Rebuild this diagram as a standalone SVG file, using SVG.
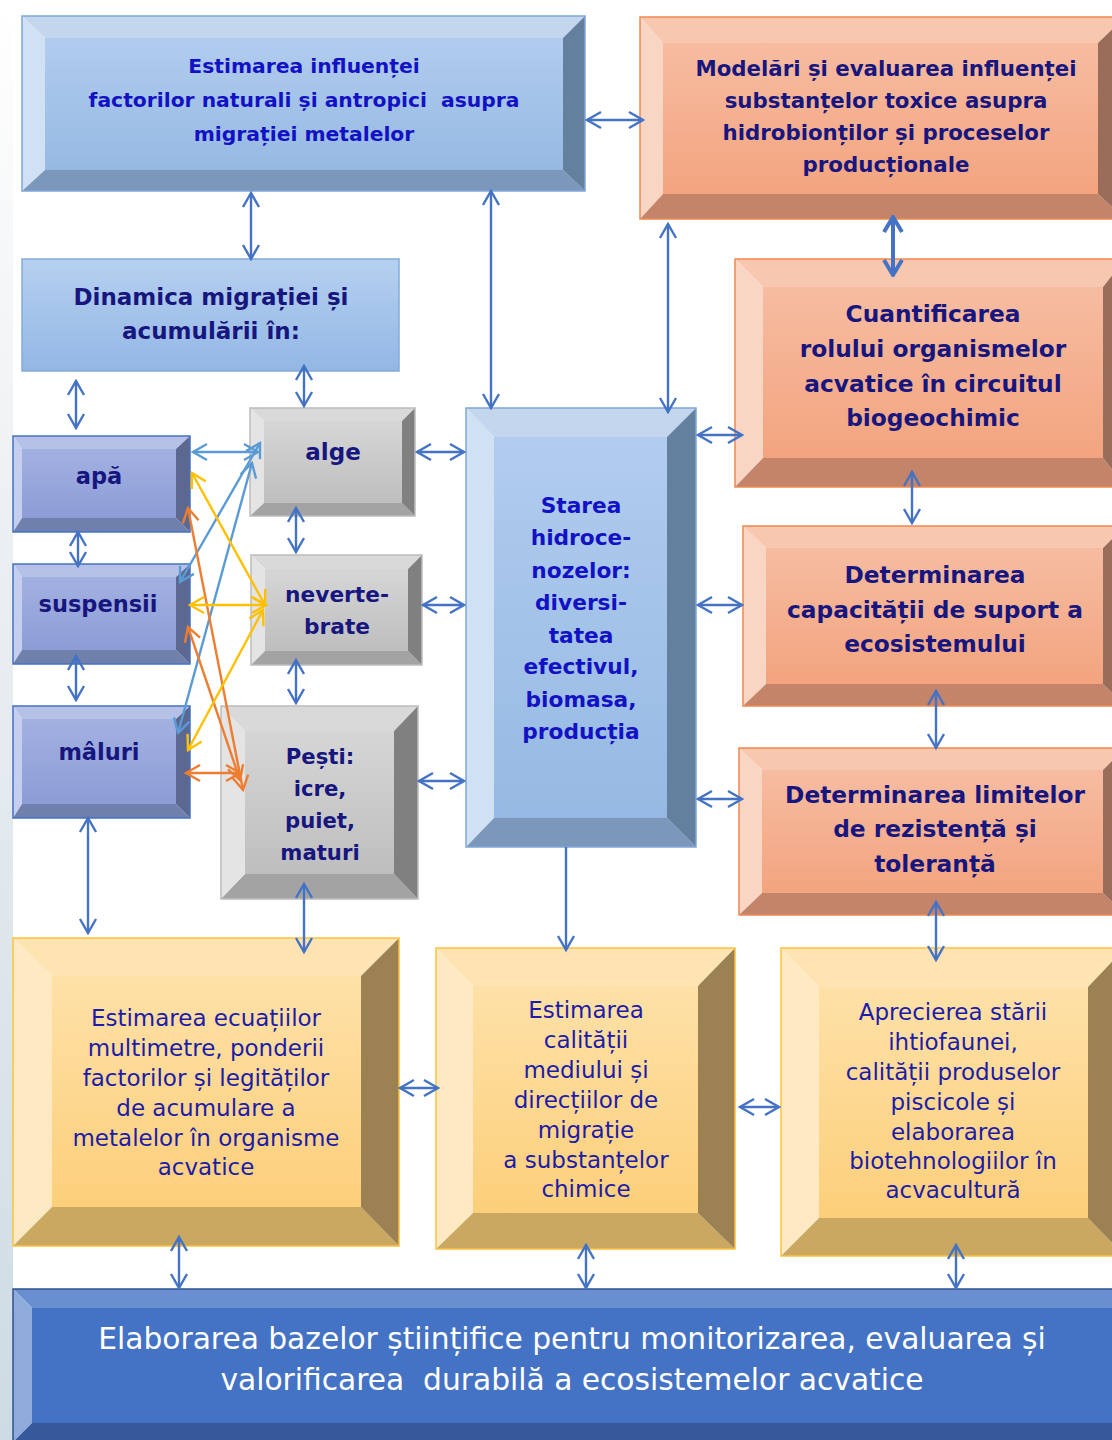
<svg xmlns="http://www.w3.org/2000/svg" width="1112" height="1440" viewBox="0 0 1112 1440">
<defs>
<linearGradient id="gBg" x1="0" y1="0" x2="0" y2="1"><stop offset="0" stop-color="#ffffff"/><stop offset="0.3" stop-color="#f0f2f4"/><stop offset="1" stop-color="#cddbe4"/></linearGradient>
<linearGradient id="gBlue" x1="0" y1="0" x2="0" y2="1"><stop offset="0" stop-color="#b1ccee"/><stop offset="1" stop-color="#96b9e3"/></linearGradient>
<linearGradient id="gDin" x1="0" y1="0" x2="0" y2="1"><stop offset="0" stop-color="#b6d0f0"/><stop offset="1" stop-color="#93b7e4"/></linearGradient>
<linearGradient id="gOr" x1="0" y1="0" x2="0" y2="1"><stop offset="0" stop-color="#f6bca1"/><stop offset="1" stop-color="#f3a47f"/></linearGradient>
<linearGradient id="gPur" x1="0" y1="0" x2="0" y2="1"><stop offset="0" stop-color="#a3b1e1"/><stop offset="1" stop-color="#8c9cd6"/></linearGradient>
<linearGradient id="gGray" x1="0" y1="0" x2="0" y2="1"><stop offset="0" stop-color="#d6d6d6"/><stop offset="1" stop-color="#bebebe"/></linearGradient>
<linearGradient id="gGold" x1="0" y1="0" x2="0" y2="1"><stop offset="0" stop-color="#fee1a8"/><stop offset="1" stop-color="#fccf7a"/></linearGradient>
<marker id="mB" viewBox="-16 -10 18 20" refX="0" refY="0" markerWidth="18" markerHeight="20" markerUnits="userSpaceOnUse" orient="auto-start-reverse"><path d="M-14,-8 L0,0 L-14,8" fill="none" stroke="#4472c4" stroke-width="2.4"/></marker>
<marker id="mBT" viewBox="-18 -12 20 24" refX="0" refY="0" markerWidth="20" markerHeight="24" markerUnits="userSpaceOnUse" orient="auto-start-reverse"><path d="M-15,-9 L0,0 L-15,9" fill="none" stroke="#4472c4" stroke-width="4"/></marker>
<marker id="mL" viewBox="-16 -10 18 20" refX="0" refY="0" markerWidth="18" markerHeight="20" markerUnits="userSpaceOnUse" orient="auto-start-reverse"><path d="M-14,-8 L0,0 L-14,8" fill="none" stroke="#5b9bd5" stroke-width="2.4"/></marker>
<marker id="mO" viewBox="-16 -10 18 20" refX="0" refY="0" markerWidth="18" markerHeight="20" markerUnits="userSpaceOnUse" orient="auto-start-reverse"><path d="M-14,-8 L0,0 L-14,8" fill="none" stroke="#ed7d31" stroke-width="2.4"/></marker>
<marker id="mY" viewBox="-16 -10 18 20" refX="0" refY="0" markerWidth="18" markerHeight="20" markerUnits="userSpaceOnUse" orient="auto-start-reverse"><path d="M-14,-8 L0,0 L-14,8" fill="none" stroke="#ffc000" stroke-width="2.4"/></marker>
</defs>
<style>
text{font-family:"DejaVu Sans","Open Sans",sans-serif;text-anchor:middle;white-space:pre}
.b{font-weight:bold}
.tb{fill:#1212c4}
.tn{fill:#16167e}
.tg{fill:#1c1ca8}
.tw{fill:#ffffff}
.bl .t{fill:#c3d6ee}.bl .l{fill:#d0e1f4}.bl .bo{fill:#7b98ba}.bl .r{fill:#63809f}.bl .c{fill:url(#gBlue)}.bl .o{fill:none;stroke:#7fa6d9;stroke-width:1.5}
.or .t{fill:#f8c7b0}.or .l{fill:#f9d5c4}.or .bo{fill:#c4846a}.or .r{fill:#9a6d5a}.or .c{fill:url(#gOr)}.or .o{fill:none;stroke:#f0894f;stroke-width:1.5}
.pu .t{fill:#b5c1e7}.pu .l{fill:#c5ceee}.pu .bo{fill:#7080ad}.pu .r{fill:#5c6890}.pu .c{fill:url(#gPur)}.pu .o{fill:none;stroke:#4472c4;stroke-width:1.5}
.gr .t{fill:#d9d9d9}.gr .l{fill:#e4e4e4}.gr .bo{fill:#a3a3a3}.gr .r{fill:#808080}.gr .c{fill:url(#gGray)}.gr .o{fill:none;stroke:#bcbcbc;stroke-width:1.5}
.go .t{fill:#fee4b2}.go .l{fill:#fee9c2}.go .bo{fill:#caa862}.go .r{fill:#9c8152}.go .c{fill:url(#gGold)}.go .o{fill:none;stroke:#fbc23c;stroke-width:1.5}
.db .t{fill:#6a8fd0}.db .l{fill:#8eabdc}.db .bo{fill:#35599b}.db .r{fill:#2c4b85}.db .c{fill:#4472c4}.db .o{fill:none;stroke:#2f528f;stroke-width:1.5}
.ln{fill:none;stroke:#4472c4;stroke-width:2.4;marker-start:url(#mB);marker-end:url(#mB)}
.lt{fill:none;stroke:#4472c4;stroke-width:4;marker-start:url(#mBT);marker-end:url(#mBT)}
.ll{fill:none;stroke:#5b9bd5;stroke-width:2.4;marker-start:url(#mL);marker-end:url(#mL)}
.lo{fill:none;stroke:#ed7d31;stroke-width:2.4;marker-start:url(#mO);marker-end:url(#mO)}
.ly{fill:none;stroke:#ffc000;stroke-width:2.4;marker-start:url(#mY);marker-end:url(#mY)}
</style>
<rect x="0" y="0" width="1112" height="1440" fill="#ffffff"/>
<rect x="0" y="0" width="13" height="1440" fill="url(#gBg)"/>

<g id="n-estimarea-influentei" class="bl">
<polygon class="t" points="22,16 585,16 563,38 45,38"/><polygon class="l" points="22,16 45,38 45,170 22,191"/><polygon class="bo" points="22,191 45,170 563,170 585,191"/><polygon class="r" points="585,16 585,191 563,170 563,38"/><rect class="c" x="45" y="38" width="518" height="132"/><rect class="o" x="22" y="16" width="563" height="175"/>
<text class="b tb" font-size="20.3"><tspan x="304" y="73">Estimarea influenței</tspan><tspan x="304" y="107">factorilor naturali și antropici  asupra</tspan><tspan x="304" y="141">migrației metalelor</tspan></text>
</g>

<g id="n-modelari" class="or">
<polygon class="t" points="640,17 1125,17 1098,43 663,43"/><polygon class="l" points="640,17 663,43 663,194 640,219"/><polygon class="bo" points="640,219 663,194 1098,194 1125,219"/><polygon class="r" points="1125,17 1125,219 1098,194 1098,43"/><rect class="c" x="663" y="43" width="435" height="151"/><rect class="o" x="640" y="17" width="485" height="202"/>
<text class="b tn" font-size="21.3"><tspan x="886" y="76">Modelări și evaluarea influenței</tspan><tspan x="886" y="108">substanțelor toxice asupra</tspan><tspan x="886" y="140">hidrobionților și proceselor</tspan><tspan x="886" y="172">producționale</tspan></text>
</g>

<g id="n-dinamica">
<rect x="22" y="259" width="377" height="112" fill="url(#gDin)" stroke="#84aadb" stroke-width="1.5"/>
<text class="b tn" font-size="23"><tspan x="211" y="305">Dinamica migrației și</tspan><tspan x="211" y="339">acumulării în:</tspan></text>
</g>

<g id="n-apa" class="pu">
<polygon class="t" points="13,436 190,436 176,449 22,449"/><polygon class="l" points="13,436 22,449 22,518 13,532"/><polygon class="bo" points="13,532 22,518 176,518 190,532"/><polygon class="r" points="190,436 190,532 176,518 176,449"/><rect class="c" x="22" y="449" width="154" height="69"/><rect class="o" x="13" y="436" width="177" height="96"/>
<text class="b tn" font-size="22.5" x="99" y="484">apă</text>
</g>

<g id="n-suspensii" class="pu">
<polygon class="t" points="13,564 190,564 176,577 22,577"/><polygon class="l" points="13,564 22,577 22,650 13,664"/><polygon class="bo" points="13,664 22,650 176,650 190,664"/><polygon class="r" points="190,564 190,664 176,650 176,577"/><rect class="c" x="22" y="577" width="154" height="73"/><rect class="o" x="13" y="564" width="177" height="100"/>
<text class="b tn" font-size="22.5" x="98" y="612">suspensii</text>
</g>

<g id="n-maluri" class="pu">
<polygon class="t" points="13,706 190,706 176,719 22,719"/><polygon class="l" points="13,706 22,719 22,804 13,818"/><polygon class="bo" points="13,818 22,804 176,804 190,818"/><polygon class="r" points="190,706 190,818 176,804 176,719"/><rect class="c" x="22" y="719" width="154" height="85"/><rect class="o" x="13" y="706" width="177" height="112"/>
<text class="b tn" font-size="22.5" x="99" y="760">mâluri</text>
</g>

<g id="n-alge" class="gr">
<polygon class="t" points="250,408 415,408 402,421 264,421"/><polygon class="l" points="250,408 264,421 264,503 250,516"/><polygon class="bo" points="250,516 264,503 402,503 415,516"/><polygon class="r" points="415,408 415,516 402,503 402,421"/><rect class="c" x="264" y="421" width="138" height="82"/><rect class="o" x="250" y="408" width="165" height="108"/>
<text class="b tn" font-size="23" x="333" y="460">alge</text>
</g>

<g id="n-nevertebrate" class="gr">
<polygon class="t" points="251,555 422,555 408,569 265,569"/><polygon class="l" points="251,555 265,569 265,651 251,665"/><polygon class="bo" points="251,665 265,651 408,651 422,665"/><polygon class="r" points="422,555 422,665 408,651 408,569"/><rect class="c" x="265" y="569" width="143" height="82"/><rect class="o" x="251" y="555" width="171" height="110"/>
<text class="b tn" font-size="21.7"><tspan x="337" y="602">neverte-</tspan><tspan x="337" y="634">brate</tspan></text>
</g>

<g id="n-pesti" class="gr">
<polygon class="t" points="221,706 418,706 394,731 245,731"/><polygon class="l" points="221,706 245,731 245,874 221,899"/><polygon class="bo" points="221,899 245,874 394,874 418,899"/><polygon class="r" points="418,706 418,899 394,874 394,731"/><rect class="c" x="245" y="731" width="149" height="143"/><rect class="o" x="221" y="706" width="197" height="193"/>
<text class="b tn" font-size="21.2"><tspan x="320" y="764">Pești:</tspan><tspan x="320" y="796">icre,</tspan><tspan x="320" y="828">puiet,</tspan><tspan x="320" y="860">maturi</tspan></text>
</g>

<g id="n-starea" class="bl">
<polygon class="t" points="466,408 696,408 667,437 494,437"/><polygon class="l" points="466,408 494,437 494,818 466,847"/><polygon class="bo" points="466,847 494,818 667,818 696,847"/><polygon class="r" points="696,408 696,847 667,818 667,437"/><rect class="c" x="494" y="437" width="173" height="381"/><rect class="o" x="466" y="408" width="230" height="439"/>
<text class="b tb" font-size="21.7"><tspan x="581" y="513">Starea</tspan><tspan x="581" y="545">hidroce-</tspan><tspan x="581" y="578">nozelor:</tspan><tspan x="581" y="610">diversi-</tspan><tspan x="581" y="643">tatea</tspan><tspan x="581" y="674">efectivul,</tspan><tspan x="581" y="707">biomasa,</tspan><tspan x="581" y="739">producția</tspan></text>
</g>

<g id="n-cuantificarea" class="or">
<polygon class="t" points="735,259 1125,259 1103,287 763,287"/><polygon class="l" points="735,259 763,287 763,458 735,487"/><polygon class="bo" points="735,487 763,458 1103,458 1125,487"/><polygon class="r" points="1125,259 1125,487 1103,458 1103,287"/><rect class="c" x="763" y="287" width="340" height="171"/><rect class="o" x="735" y="259" width="390" height="228"/>
<text class="b tn" font-size="23.3"><tspan x="933" y="322">Cuantificarea</tspan><tspan x="933" y="357">rolului organismelor</tspan><tspan x="933" y="392">acvatice în circuitul</tspan><tspan x="933" y="426">biogeochimic</tspan></text>
</g>

<g id="n-capacitate" class="or">
<polygon class="t" points="743,526 1125,526 1103,548 766,548"/><polygon class="l" points="743,526 766,548 766,684 743,706"/><polygon class="bo" points="743,706 766,684 1103,684 1125,706"/><polygon class="r" points="1125,526 1125,706 1103,684 1103,548"/><rect class="c" x="766" y="548" width="337" height="136"/><rect class="o" x="743" y="526" width="382" height="180"/>
<text class="b tn" font-size="23.3"><tspan x="935" y="583">Determinarea</tspan><tspan x="935" y="618">capacității de suport a</tspan><tspan x="935" y="652">ecosistemului</tspan></text>
</g>

<g id="n-limite" class="or">
<polygon class="t" points="739,748 1125,748 1103,770 762,770"/><polygon class="l" points="739,748 762,770 762,893 739,915"/><polygon class="bo" points="739,915 762,893 1103,893 1125,915"/><polygon class="r" points="1125,748 1125,915 1103,893 1103,770"/><rect class="c" x="762" y="770" width="341" height="123"/><rect class="o" x="739" y="748" width="386" height="167"/>
<text class="b tn" font-size="23.3"><tspan x="935" y="803">Determinarea limitelor</tspan><tspan x="935" y="837">de rezistență și</tspan><tspan x="935" y="872">toleranță</tspan></text>
</g>

<g id="n-ecuatii" class="go">
<polygon class="t" points="13,938 399,938 361,976 52,976"/><polygon class="l" points="13,938 52,976 52,1207 13,1246"/><polygon class="bo" points="13,1246 52,1207 361,1207 399,1246"/><polygon class="r" points="399,938 399,1246 361,1207 361,976"/><rect class="c" x="52" y="976" width="309" height="231"/><rect class="o" x="13" y="938" width="386" height="308"/>
<text class="tg" font-size="23"><tspan x="206" y="1026">Estimarea ecuațiilor</tspan><tspan x="206" y="1056">multimetre, ponderii</tspan><tspan x="206" y="1086">factorilor și legităților</tspan><tspan x="206" y="1116">de acumulare a</tspan><tspan x="206" y="1146">metalelor în organisme</tspan><tspan x="206" y="1175">acvatice</tspan></text>
</g>

<g id="n-calitate-mediu" class="go">
<polygon class="t" points="436,948 735,948 698,986 473,986"/><polygon class="l" points="436,948 473,986 473,1213 436,1249"/><polygon class="bo" points="436,1249 473,1213 698,1213 735,1249"/><polygon class="r" points="735,948 735,1249 698,1213 698,986"/><rect class="c" x="473" y="986" width="225" height="227"/><rect class="o" x="436" y="948" width="299" height="301"/>
<text class="tg" font-size="23"><tspan x="586" y="1018">Estimarea</tspan><tspan x="586" y="1048">calității</tspan><tspan x="586" y="1078">mediului și</tspan><tspan x="586" y="1108">direcțiilor de</tspan><tspan x="586" y="1138">migrație</tspan><tspan x="586" y="1168">a substanțelor</tspan><tspan x="586" y="1197">chimice</tspan></text>
</g>

<g id="n-ihtiofauna" class="go">
<polygon class="t" points="781,948 1125,948 1088,987 819,987"/><polygon class="l" points="781,948 819,987 819,1218 781,1256"/><polygon class="bo" points="781,1256 819,1218 1088,1218 1125,1256"/><polygon class="r" points="1125,948 1125,1256 1088,1218 1088,987"/><rect class="c" x="819" y="987" width="269" height="231"/><rect class="o" x="781" y="948" width="344" height="308"/>
<text class="tg" font-size="23"><tspan x="953" y="1020">Aprecierea stării</tspan><tspan x="953" y="1050">ihtiofaunei,</tspan><tspan x="953" y="1080">calității produselor</tspan><tspan x="953" y="1110">piscicole și</tspan><tspan x="953" y="1140">elaborarea</tspan><tspan x="953" y="1169">biotehnologiilor în</tspan><tspan x="953" y="1198">acvacultură</tspan></text>
</g>

<g id="n-baze-stiintifice" class="db">
<polygon class="t" points="13,1289 1130,1289 1112,1308 32,1308"/><polygon class="l" points="13,1289 32,1308 32,1423 13,1442"/><polygon class="bo" points="13,1442 32,1423 1112,1423 1130,1442"/><polygon class="r" points="1130,1289 1130,1442 1112,1423 1112,1308"/><rect class="c" x="32" y="1308" width="1080" height="115"/><rect class="o" x="13" y="1289" width="1117" height="153"/>
<text class="tw" font-size="29.7"><tspan x="572" y="1349">Elaborarea bazelor științifice pentru monitorizarea, evaluarea și</tspan><tspan x="572" y="1390">valorificarea  durabilă a ecosistemelor acvatice</tspan></text>
</g>

<g id="connectors">
<line class="ln" x1="251" y1="193" x2="251" y2="259"/>
<line class="ln" x1="587" y1="120" x2="643" y2="120"/>
<line class="ln" x1="491" y1="191" x2="491" y2="408"/>
<line class="ln" x1="668" y1="224" x2="668" y2="412"/>
<line class="lt" x1="893" y1="217" x2="893" y2="275"/>
<line class="ln" x1="76" y1="381" x2="76" y2="428"/>
<line class="ln" x1="304" y1="366" x2="304" y2="406"/>
<line class="ln" x1="78" y1="532" x2="78" y2="566"/>
<line class="ln" x1="76" y1="656" x2="76" y2="700"/>
<line class="ln" x1="296" y1="508" x2="296" y2="552"/>
<line class="ln" x1="296" y1="660" x2="296" y2="703"/>
<line class="ln" x1="417" y1="452" x2="464" y2="452"/>
<line class="ln" x1="423" y1="605" x2="464" y2="605"/>
<line class="ln" x1="419" y1="781" x2="464" y2="781"/>
<line class="ln" x1="698" y1="435" x2="742" y2="435"/>
<line class="ln" x1="698" y1="605" x2="742" y2="605"/>
<line class="ln" x1="698" y1="799" x2="742" y2="799"/>
<line class="ln" x1="912" y1="472" x2="912" y2="523"/>
<line class="ln" x1="936" y1="691" x2="936" y2="748"/>
<line class="ln" x1="936" y1="902" x2="936" y2="960"/>
<line fill="none" stroke="#4472c4" stroke-width="2.4" marker-end="url(#mB)" x1="566" y1="847" x2="566" y2="950"/>
<line class="ln" x1="88" y1="818" x2="88" y2="933"/>
<line class="ln" x1="304" y1="884" x2="304" y2="952"/>
<line class="ln" x1="400" y1="1088" x2="438" y2="1088"/>
<line class="ln" x1="740" y1="1107" x2="779" y2="1107"/>
<line class="ln" x1="179" y1="1237" x2="179" y2="1288"/>
<line class="ln" x1="586" y1="1245" x2="586" y2="1288"/>
<line class="ln" x1="956" y1="1245" x2="956" y2="1288"/>
<line class="ll" x1="193" y1="452" x2="258" y2="452"/>
<line class="ll" x1="260" y1="443" x2="180" y2="582"/>
<line class="ll" x1="252" y1="463" x2="178" y2="733"/>
<line class="lo" x1="188" y1="508" x2="243" y2="790"/>
<line class="lo" x1="188" y1="627" x2="240" y2="780"/>
<line class="lo" x1="186" y1="773" x2="240" y2="773"/>
<line class="ly" x1="192" y1="473" x2="265" y2="605"/>
<line class="ly" x1="190" y1="605" x2="266" y2="605"/>
<line class="ly" x1="188" y1="750" x2="263" y2="610"/>
</g>
</svg>
